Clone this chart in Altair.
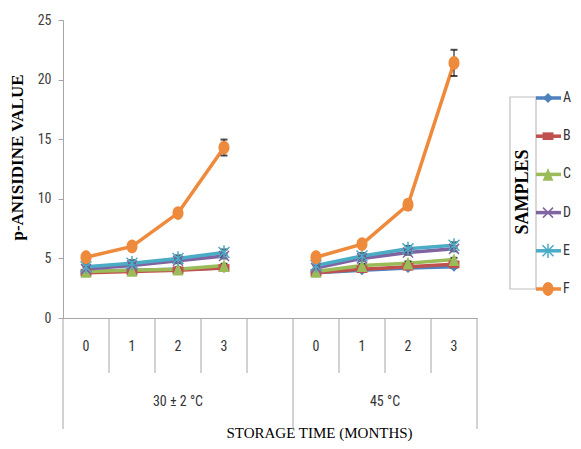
import altair as alt
import pandas as pd

samples = ["A", "B", "C", "D", "E", "F"]
temps = ["30 ± 2 °C", "45 °C"]
months = [0, 1, 2, 3]

A_30 = [3.9, 4.0, 4.1, 4.2]
A_45 = [3.8, 4.0, 4.2, 4.3]
B_30 = [3.8, 3.9, 4.0, 4.2]
B_45 = [3.8, 4.1, 4.3, 4.5]
C_30 = [3.9, 4.0, 4.1, 4.4]
C_45 = [3.9, 4.4, 4.6, 4.9]
D_30 = [4.1, 4.4, 4.8, 5.2]
D_45 = [4.2, 5.0, 5.5, 5.8]
E_30 = [4.3, 4.6, 5.0, 5.5]
E_45 = [4.4, 5.2, 5.8, 6.1]
F_30 = [5.1, 6.0, 8.8, 14.3]
F_45 = [5.1, 6.2, 9.5, 21.4]

A_err = [0.1, 0.1, 0.1, 0.1]
B_err = [0.1, 0.1, 0.1, 0.1]
C_err = [0.15, 0.15, 0.15, 0.15]
D_err = [0.2, 0.2, 0.2, 0.2]
E_err = [0.25, 0.25, 0.25, 0.25]
F_err_30 = [0.2, 0.2, 0.3, 0.67]
F_err_45 = [0.2, 0.3, 0.4, 1.1]

colors = ["#4F81BD", "#C0504D", "#9BBB59", "#8064A2", "#4BACC6", "#EE8A3C"]

series = {
    "A": (A_30, A_45, A_err, A_err),
    "B": (B_30, B_45, B_err, B_err),
    "C": (C_30, C_45, C_err, C_err),
    "D": (D_30, D_45, D_err, D_err),
    "E": (E_30, E_45, E_err, E_err),
    "F": (F_30, F_45, F_err_30, F_err_45),
}

GROUP_SLOTS = 5  # 4 months + one empty category per temperature group
rows = []
for s in samples:
    v30, v45, e30, e45 = series[s]
    for ti, (vals, errs) in enumerate([(v30, e30), (v45, e45)]):
        for m, v, e in zip(months, vals, errs):
            rows.append({"sample": s, "temp": temps[ti], "month": m,
                         "slot": ti * GROUP_SLOTS + m + 0.5,
                         "value": v, "lo": v - e, "hi": v + e})
df = pd.DataFrame(rows)

lab_rows = []
for ti, t in enumerate(temps):
    for m in months:
        lab_rows.append({"slot": ti * GROUP_SLOTS + m + 0.5, "label": str(m)})
df_lab = pd.DataFrame(lab_rows)

n_slots = GROUP_SLOTS + len(months)
df_grp = pd.DataFrame({
    "temp": temps,
    "center": [GROUP_SLOTS / 2, GROUP_SLOTS + len(months) / 2],
})
bounds = list(range(n_slots + 1))
df_b = pd.DataFrame({"b": bounds,
                     "long": [b in (0, GROUP_SLOTS, n_slots) for b in bounds]})

W, H = 414, 298
GRID = "#a6a6a6"
NARROW = "Liberation Sans Narrow, Arial Narrow, Roboto Condensed, Liberation Sans, sans-serif"
SERIF = "Liberation Serif, Times New Roman, serif"

xscale = alt.Scale(domain=[0, n_slots], nice=False, zero=False)
yscale = alt.Scale(domain=[0, 25], nice=False)
cscale = alt.Scale(domain=samples, range=colors)

X = alt.X("slot:Q", scale=xscale,
          axis=alt.Axis(labels=False, ticks=False, grid=False, domainColor=GRID,
                        title="STORAGE TIME (MONTHS)", titleFont=SERIF,
                        titleFontSize=15, titleFontWeight="normal", titleColor="black",
                        titleX=256, titleY=114, titleBaseline="middle",
                        titleAlign="center"))
Y = alt.Y("value:Q", scale=yscale,
          axis=alt.Axis(values=[0, 5, 10, 15, 20, 25], grid=False, domainColor=GRID,
                        tickColor=GRID, tickSize=5, labelFont=NARROW, labelFontSize=14,
                        labelColor="#404040", labelPadding=7,
                        title="p-ANISIDINE VALUE", titleFont=SERIF, titleFontSize=17,
                        titleFontWeight="bold", titleColor="black", titleAngle=270,
                        titleX=-46, titleY=137, titleAlign="center",
                        titleBaseline="middle"))
C = alt.Color("sample:N", scale=cscale, legend=None)

short_rules = alt.Chart(df_b).transform_filter("!datum.long").mark_rule(
    color=GRID, strokeWidth=1).encode(
    x=alt.X("b:Q", scale=xscale), y=alt.value(H), y2=alt.value(H + 55))
long_rules = alt.Chart(df_b).transform_filter("datum.long").mark_rule(
    color=GRID, strokeWidth=1).encode(
    x=alt.X("b:Q", scale=xscale), y=alt.value(H), y2=alt.value(H + 111))
month_text = alt.Chart(df_lab).mark_text(
    font=NARROW, fontSize=14, color="#333333", baseline="middle").encode(
    x=alt.X("slot:Q", scale=xscale), y=alt.value(H + 29), text="label:N")
group_text = alt.Chart(df_grp).mark_text(
    font=NARROW, fontSize=14, color="#333333", baseline="middle").encode(
    x=alt.X("center:Q", scale=xscale), y=alt.value(H + 84), text="temp:N")

lines = alt.Chart(df).mark_line(strokeWidth=3.5).encode(
    x=X, y=Y, color=C, detail="temp:N", order="month:Q")
err_rule = alt.Chart(df).mark_rule(color="black", strokeWidth=1).encode(
    x=alt.X("slot:Q", scale=xscale), y=alt.Y("lo:Q", scale=yscale), y2="hi:Q")
err_lo = alt.Chart(df).mark_tick(orient="horizontal", color="black", size=7,
                                 thickness=2).encode(
    x=alt.X("slot:Q", scale=xscale), y=alt.Y("lo:Q", scale=yscale))
err_hi = alt.Chart(df).mark_tick(orient="horizontal", color="black", size=7,
                                 thickness=2).encode(
    x=alt.X("slot:Q", scale=xscale), y=alt.Y("hi:Q", scale=yscale))

marker_specs = [
    ("A", "diamond", 100, True),
    ("B", "M-1,-0.7H1V0.7H-1Z", 120, True),
    ("C", "M0,-1L0.85,1L-0.85,1Z", 160, True),
    ("D", "M-1,-1L1,1M-1,1L1,-1", 100, False),
    ("E", "M-1,-1L1,1M-1,1L1,-1M0,-1.3L0,1.3", 120, False),
    ("F", "M-0.8,0A0.8,1,0,1,1,0.8,0A0.8,1,0,1,1,-0.8,0Z", 190, True),
]


def marker_layers(data, x_enc, y_enc):
    out = []
    for s, shape, size, filled in marker_specs:
        if filled:
            mk = dict(shape=shape, size=size, filled=True, opacity=1, strokeWidth=0)
        else:
            mk = dict(shape=shape, size=size, filled=False, opacity=1, strokeWidth=1.5)
        out.append(alt.Chart(data).mark_point(**mk).transform_filter(
            alt.datum.sample == s).encode(x=x_enc, y=y_enc, color=C))
    return out


points = marker_layers(df, alt.X("slot:Q", scale=xscale), alt.Y("value:Q", scale=yscale))

main = alt.layer(lines, short_rules, long_rules, month_text, group_text,
                 err_rule, err_lo, err_hi, *points)

# legend panel
df_leg = pd.DataFrame({"sample": samples})
LY = alt.Y("sample:N", scale=alt.Scale(type="point", domain=samples, range=[78, 269],
                                       padding=0), axis=None)
leg_box = alt.Chart(pd.DataFrame({"t": ["SAMPLES"]})).mark_rect(
    fill="white", stroke="#bfbfbf", strokeWidth=1.2).encode(
    x=alt.value(447), x2=alt.value(473), y=alt.value(77), y2=alt.value(269))
leg_title = alt.Chart(pd.DataFrame({"t": ["SAMPLES"]})).mark_text(
    font=SERIF, fontSize=18, fontWeight="bold", angle=270, color="black",
    baseline="middle", align="center").encode(
    x=alt.value(460), y=alt.value(172), text="t:N")
leg_lines = alt.Chart(df_leg).mark_rule(strokeWidth=3.5).encode(
    x=alt.value(473), x2=alt.value(498), y=LY, color=C)
leg_points = marker_layers(df_leg, alt.value(485), LY)
leg_text = alt.Chart(df_leg).mark_text(
    font=NARROW, fontSize=14, color="#333333", align="left", baseline="middle").encode(
    x=alt.value(500), y=LY, text="sample:N")

legend = alt.layer(leg_box, leg_title, leg_lines, *leg_points, leg_text)

chart = alt.layer(main, legend).resolve_scale(y="independent").properties(
    width=W, height=H, autosize=alt.AutoSizeParams(type="none"),
    padding={"left": 55, "top": 12, "right": 96, "bottom": 123},
    background="white",
).configure_view(stroke=None)

chart.save("out.html", embed_options={"renderer": "svg", "actions": False})
